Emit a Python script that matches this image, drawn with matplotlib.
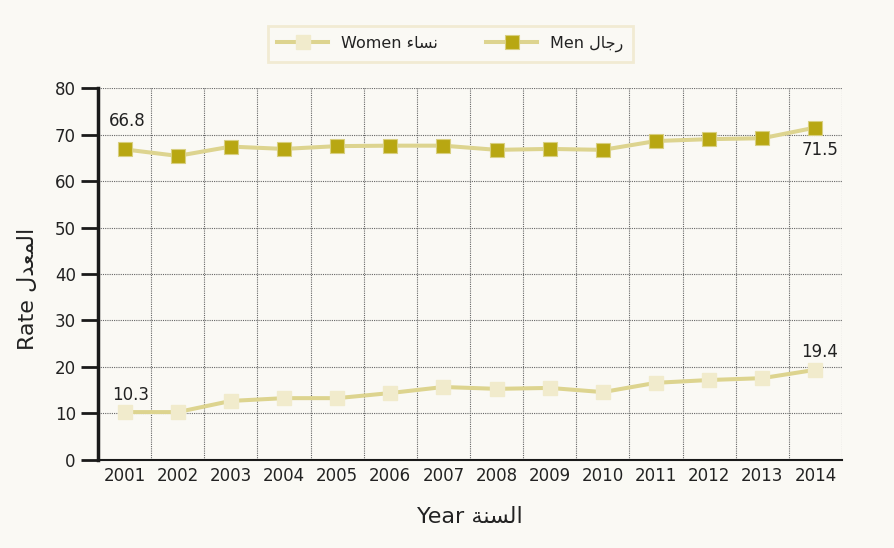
import numpy as np
import matplotlib
matplotlib.use('Agg')
import matplotlib.pyplot as plt
from matplotlib.ticker import MultipleLocator

years = [str(y) for y in range(2001, 2015)]
men = [66.8, 65.4, 67.4, 66.9, 67.5, 67.6, 67.6, 66.7, 66.9, 66.7, 68.6, 69.0, 69.2, 71.5]
women = [10.3, 10.3, 12.7, 13.3, 13.3, 14.4, 15.7, 15.3, 15.5, 14.6, 16.6, 17.2, 17.6, 19.4]

# Arabic in presentation forms (visual order), since matplotlib does no shaping
ar_men = "\uFEDD\uFE8E\uFE9F\uFEAD"          # رجال
ar_women = "\uFE80\uFE8E\uFEB4\uFEE7"        # نساء
ar_rate = "\uFEDD\uFEAA\uFECC\uFEE4\uFEDF\uFE8D"  # المعدل
ar_year = "\uFE94\uFEE8\uFEB4\uFEDF\uFE8D"   # السنة

plt.rcParams['font.family'] = ['DejaVu Sans']
bg = '#faf9f4'
line_col = '#ddd48f'
men_col = '#b8a712'
women_col = '#f1ebcc'
text_col = '#222222'

fig = plt.figure(figsize=(8.95, 5.48), dpi=100, facecolor=bg)
ax = fig.add_axes([0.1095, 0.1606, 0.8313, 0.6788], facecolor=bg)

x = np.arange(len(years))
lw = 2.9
ms = 9.5
ax.plot(x, women, color=line_col, lw=lw, marker='s', ms=ms, mfc=women_col,
        mec=women_col, label=f'Women {ar_women}', zorder=3)
ax.plot(x, men, color=line_col, lw=lw, marker='s', ms=ms, mfc=men_col,
        mec='#d8cf80', mew=0.8, label=f'Men {ar_men}', zorder=3)

ax.set_xlim(-0.5, len(years) - 0.5)
ax.set_ylim(0, 80)
ax.yaxis.set_major_locator(MultipleLocator(10))
ax.set_xticks(x)
ax.set_xticklabels(years)
ax.set_xticks(np.arange(len(years)) + 0.5, minor=True)

ax.grid(True, which='major', axis='y', ls=(0, (1, 1)), color='#666666', lw=0.8)
ax.grid(True, which='minor', axis='x', ls=(0, (1, 1)), color='#666666', lw=0.8)

for s in ['top', 'right']:
    ax.spines[s].set_visible(False)
ax.spines['left'].set_linewidth(2.5)
ax.spines['left'].set_color('#1a1a1a')
ax.spines['bottom'].set_linewidth(1.5)
ax.spines['bottom'].set_color('#1a1a1a')

ax.tick_params(axis='y', which='major', length=12, width=2, color='#1a1a1a',
               labelsize=12, labelcolor=text_col, pad=4)
ax.tick_params(axis='x', which='major', length=0, labelsize=12,
               labelcolor=text_col, pad=5)
ax.tick_params(axis='x', which='minor', length=0)

ax.set_xlabel(f'Year {ar_year}', fontsize=16, color=text_col, labelpad=16)
ax.set_ylabel(f'Rate {ar_rate}', fontsize=16, color=text_col)
ax.yaxis.set_label_coords(-0.08, 0.46)

# value annotations
ax.annotate(f'{men[0]}', (x[0], men[0]), xytext=(-11, 14), textcoords='offset points',
            ha='left', va='bottom', fontsize=12, color=text_col)
ax.annotate(f'{men[-1]}', (x[-1], men[-1]), xytext=(3, -10), textcoords='offset points',
            ha='center', va='top', fontsize=12, color=text_col)
ax.annotate(f'{women[0]}', (x[0], women[0]), xytext=(-9, 6), textcoords='offset points',
            ha='left', va='bottom', fontsize=12, color=text_col)
ax.annotate(f'{women[-1]}', (x[-1], women[-1]), xytext=(3, 6), textcoords='offset points',
            ha='center', va='bottom', fontsize=12, color=text_col)

leg = fig.legend(loc='center', bbox_to_anchor=(0.503, 0.92), ncol=2, frameon=True,
                 fontsize=11.5, handlelength=3.2, columnspacing=3.0, borderpad=0.6,
                 fancybox=False)
leg.get_frame().set_facecolor(bg)
leg.get_frame().set_edgecolor('#efe8cb')
leg.get_frame().set_linewidth(2)
for t in leg.get_texts():
    t.set_color(text_col)

plt.savefig('out.png', dpi=100, facecolor=bg)
plt.close()
